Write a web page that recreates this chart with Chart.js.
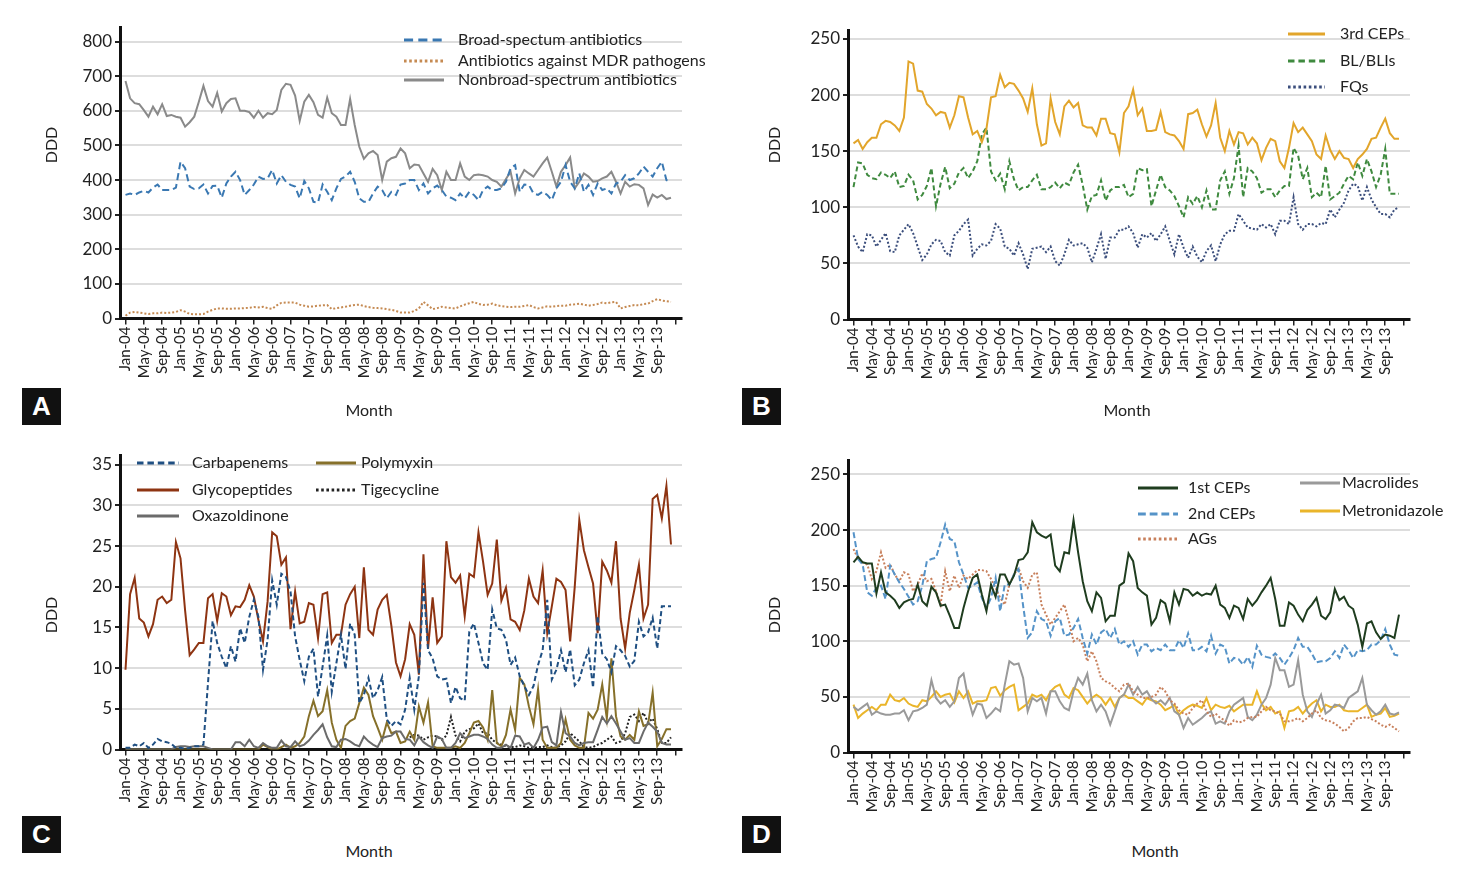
<!DOCTYPE html>
<html>
<head>
<meta charset="utf-8">
<script src="https://cdn.jsdelivr.net/npm/chart.js@4"></script>
<style>
  body { margin: 0; background: #fff; width: 1460px; height: 874px; position: relative; overflow: hidden; font-family: Lato, "Liberation Sans", sans-serif; color: #222; }
  canvas { position: absolute; }
  .tag { position: absolute; width: 39px; height: 37px; background: #111; color: #fff; font: bold 26px "Liberation Sans", sans-serif; text-align: center; line-height: 37px; }
  .lbl { position: absolute; font-size: 16px; transform: translate(-50%, -50%); white-space: nowrap; }
  .ddd { transform: translate(-50%, -50%) rotate(-90deg); }
</style>
</head>
<body>
<canvas id="chartA" width="730" height="400" style="left:0;top:0"></canvas>
<canvas id="chartB" width="732" height="400" style="left:728px;top:0"></canvas>
<canvas id="chartC" width="730" height="400" style="left:0;top:430px"></canvas>
<canvas id="chartD" width="732" height="400" style="left:728px;top:430px"></canvas>

<div class="lbl ddd" style="left:50px;top:145px">DDD</div>
<div class="lbl ddd" style="left:773px;top:145px">DDD</div>
<div class="lbl ddd" style="left:50px;top:615px">DDD</div>
<div class="lbl ddd" style="left:773px;top:615px">DDD</div>
<div class="lbl" style="left:369px;top:409px">Month</div>
<div class="lbl" style="left:1127px;top:409px">Month</div>
<div class="lbl" style="left:369px;top:850px">Month</div>
<div class="lbl" style="left:1155px;top:850px">Month</div>
<div class="tag" style="left:22px;top:388px">A</div>
<div class="tag" style="left:742px;top:388px">B</div>
<div class="tag" style="left:22px;top:816px">C</div>
<div class="tag" style="left:742px;top:816px">D</div>

<script>
// x tick labels, one every 4 months (Jan-04 .. Sep-13); data runs monthly Jan-04 .. Dec-13
const tickLabels = [
  "Jan-04", "May-04", "Sep-04", "Jan-05", "May-05", "Sep-05", "Jan-06", "May-06", "Sep-06", "Jan-07",
  "May-07", "Sep-07", "Jan-08", "May-08", "Sep-08", "Jan-09", "May-09", "Sep-09", "Jan-10", "May-10",
  "Sep-10", "Jan-11", "May-11", "Sep-11", "Jan-12", "May-12", "Sep-12", "Jan-13", "May-13", "Sep-13"
];

const yTicksA = [0, 100, 200, 300, 400, 500, 600, 700, 800];
const yTicksB = [0, 50, 100, 150, 200, 250];
const yTicksC = [0, 5, 10, 15, 20, 25, 30, 35];
const yTicksD = [0, 50, 100, 150, 200, 250];

// panel A
const broadA = [
  357, 361, 357, 364, 369, 364, 378, 387, 371, 371,
  371, 378, 453, 434, 381, 374, 376, 387, 361, 383,
  384, 349, 390, 410, 424, 400, 357, 371, 387, 410,
  403, 405, 429, 390, 414, 395, 386, 381, 347, 397,
  376, 337, 335, 387, 366, 342, 376, 403, 410, 424,
  395, 347, 337, 337, 361, 381, 371, 347, 366, 357,
  387, 390, 400, 400, 371, 390, 361, 376, 384, 371,
  352, 349, 342, 361, 347, 366, 357, 342, 371, 381,
  371, 371, 376, 395, 434, 443, 366, 387, 386, 361,
  357, 366, 357, 342, 376, 395, 443, 395, 376, 419,
  366, 386, 357, 390, 371, 376, 361, 390, 395, 414,
  400, 405, 419, 439, 424, 410, 434, 453, 400, 393
];
const mdrA = [
  8, 17, 19, 17, 15, 13, 15, 15, 17, 16,
  17, 19, 24, 20, 13, 12, 12, 13, 20, 25,
  29, 29, 28, 28, 29, 29, 30, 31, 33, 32,
  34, 30, 28, 38, 45, 46, 46, 46, 40, 37,
  34, 35, 37, 38, 39, 27, 30, 32, 34, 37,
  39, 40, 36, 33, 31, 30, 29, 27, 25, 22,
  17, 17, 17, 22, 29, 48, 38, 27, 30, 34,
  32, 30, 29, 35, 40, 44, 48, 42, 39, 40,
  43, 38, 36, 34, 33, 34, 34, 36, 39, 33,
  29, 32, 35, 34, 36, 37, 37, 40, 41, 43,
  40, 37, 39, 42, 46, 44, 47, 48, 29, 33,
  36, 39, 38, 42, 43, 50, 56, 52, 50, 48
];
const nonbroadA = [
  686, 636, 622, 619, 602, 583, 612, 590, 619, 585,
  588, 583, 580, 554, 567, 583, 626, 672, 628, 612,
  652, 598, 622, 634, 636, 600, 600, 596, 580, 600,
  580, 593, 590, 602, 660, 678, 675, 644, 571, 626,
  646, 625, 588, 580, 638, 593, 583, 559, 559, 634,
  559, 496, 461, 477, 484, 472, 400, 453, 463, 467,
  491, 477, 434, 445, 443, 419, 395, 432, 414, 371,
  424, 400, 400, 448, 410, 400, 414, 416, 414, 410,
  400, 395, 381, 403, 424, 361, 405, 429, 419, 410,
  429, 448, 465, 424, 381, 424, 443, 465, 376, 395,
  419, 410, 395, 397, 405, 410, 424, 395, 361, 395,
  381, 388, 386, 376, 328, 358, 349, 357, 345, 349
];

// panel B
const cep3B = [
  157, 160, 152, 158, 162, 162, 174, 177, 176, 173,
  168, 180, 230, 228, 204, 203, 192, 188, 182, 185,
  184, 171, 182, 199, 198, 180, 165, 168, 158, 170,
  198, 199, 218, 207, 211, 210, 204, 197, 185, 206,
  174, 155, 157, 197, 176, 165, 190, 195, 189, 193,
  173, 171, 171, 164, 179, 179, 166, 165, 149, 184,
  190, 205, 182, 188, 168, 168, 169, 185, 167, 165,
  164, 159, 152, 183, 184, 187, 174, 163, 173, 193,
  162, 150, 168, 156, 167, 166, 156, 162, 157, 142,
  153, 161, 159, 141, 135, 153, 175, 167, 171, 165,
  159, 147, 143, 164, 151, 143, 150, 144, 143, 135,
  143, 147, 152, 161, 162, 171, 179, 166, 161, 161
];
const blbliB = [
  118, 140, 139, 129, 126, 125, 131, 129, 126, 132,
  118, 119, 129, 124, 107, 111, 119, 135, 101, 121,
  136, 117, 121, 131, 135, 126, 132, 141, 165, 171,
  132, 124, 130, 116, 141, 125, 115, 118, 118, 124,
  129, 116, 116, 118, 122, 117, 122, 120, 131, 138,
  120, 98, 110, 111, 124, 106, 115, 118, 118, 120,
  109, 112, 135, 133, 134, 101, 115, 129, 118, 115,
  110, 101, 91, 109, 103, 110, 100, 115, 98, 98,
  124, 132, 112, 126, 155, 109, 135, 132, 126, 113,
  116, 116, 109, 115, 119, 119, 153, 146, 125, 135,
  109, 113, 109, 137, 107, 110, 113, 121, 128, 125,
  140, 128, 143, 132, 118, 129, 152, 112, 112, 112
];
const fqB = [
  75, 65, 60, 76, 75, 65, 71, 77, 61, 60,
  75, 80, 85, 77, 65, 53, 58, 67, 71, 70,
  60, 57, 75, 79, 85, 89, 57, 63, 67, 66,
  70, 85, 81, 65, 63, 57, 68, 58, 45, 63,
  64, 65, 60, 65, 52, 48, 58, 71, 66, 67,
  68, 64, 51, 63, 76, 54, 73, 73, 80, 80,
  83, 77, 64, 76, 73, 77, 70, 76, 83, 70,
  58, 76, 64, 55, 65, 56, 51, 61, 66, 52,
  67, 76, 79, 79, 94, 88, 82, 81, 80, 85,
  82, 85, 76, 88, 88, 85, 109, 85, 80, 85,
  85, 83, 86, 85, 98, 91, 98, 104, 115, 121,
  119, 106, 118, 107, 100, 94, 94, 91, 98, 100
];

// panel C
const carbaC = [
  0.2, 0.2, 0.6, 0.4, 0.8, 0.2, 0.6, 1.3, 1.0, 0.9,
  0.7, 0.2, 0.2, 0.1, 0.2, 0.4, 0.4, 0.6, 8.2, 15.8,
  13.1, 11.4, 10.0, 12.7, 10.8, 14.9, 13.1, 16.3, 18.4, 16.3,
  9.8, 13.5, 20.8, 17.8, 21.6, 21.2, 19.4, 13.9, 11.0, 8.4,
  11.4, 12.4, 6.5, 10.2, 14.0, 7.1, 10.6, 14.1, 9.9, 15.5,
  14.1, 5.7, 6.7, 8.8, 6.3, 7.3, 8.9, 3.7, 2.9, 3.5,
  3.1, 4.9, 8.8, 4.9, 9.0, 20.5, 12.2, 11.2, 9.0, 8.6,
  8.7, 5.7, 7.7, 6.3, 6.0, 14.5, 15.5, 13.1, 10.6, 9.8,
  17.2, 14.9, 14.7, 13.5, 10.4, 11.3, 9.0, 7.8, 6.7, 7.8,
  10.4, 12.2, 18.4, 8.6, 9.8, 12.2, 9.5, 12.3, 7.9, 8.6,
  10.6, 12.2, 7.6, 16.4, 11.8, 11.1, 9.5, 12.7, 12.2, 11.5,
  10.2, 10.9, 15.7, 13.9, 14.4, 16.2, 12.4, 17.6, 17.6, 17.6
];
const glycoC = [
  9.8, 19.1, 21.1, 16.1, 15.6, 13.9, 15.4, 18.4, 18.8, 18.0,
  18.4, 25.5, 23.5, 17.1, 11.6, 12.3, 13.1, 13.1, 18.6, 19.1,
  15.8, 19.2, 18.8, 16.5, 17.6, 17.5, 18.4, 20.2, 18.8, 15.9,
  13.3, 18.2, 26.7, 26.2, 22.7, 23.6, 14.8, 19.4, 15.5, 15.7,
  18.0, 17.8, 13.7, 19.1, 19.3, 13.1, 14.1, 14.1, 17.8, 19.1,
  20.0, 13.7, 22.4, 14.7, 14.1, 17.2, 18.4, 19.0, 15.2, 10.7,
  9.0, 11.1, 15.4, 14.1, 9.2, 24.0, 12.4, 18.7, 13.1, 13.9,
  25.6, 21.2, 20.5, 21.4, 16.4, 21.6, 21.2, 26.7, 23.1, 19.0,
  20.4, 25.8, 18.3, 19.9, 16.0, 15.7, 14.7, 17.1, 21.0, 18.8,
  18.0, 22.0, 14.3, 17.6, 21.0, 20.6, 19.6, 13.3, 20.0, 28.2,
  24.5, 22.4, 20.4, 14.3, 23.1, 22.0, 20.5, 25.6, 16.1, 12.4,
  16.8, 19.6, 22.7, 16.1, 17.8, 30.8, 31.3, 28.4, 32.4, 25.2
];
const oxaC = [
  0, 0, 0, 0, 0, 0, 0, 0, 0, 0,
  0, 0.3, 0.4, 0.4, 0.3, 0.4, 0.4, 0.4, 0.2, 0,
  0, 0, 0, 0, 0.9, 0.9, 0.4, 1.2, 0.4, 0.2,
  0.8, 0.4, 0.2, 0.2, 1.1, 0.4, 0.3, 1.0, 0.4, 0.6,
  1.1, 1.8, 2.4, 3.1, 1.5, 0.4, 0.3, 1.2, 1.3, 1.0,
  0.6, 0.4, 1.6, 1.0, 0.6, 0.3, 1.4, 1.6, 1.7, 2.2,
  2.2, 1.3, 1.2, 0.5, 1.6, 0.9, 0.5, 0.2, 1.6, 1.3,
  0.2, 0.2, 0.8, 2.0, 1.4, 1.6, 1.8, 1.8, 1.6, 1.3,
  0.6, 0.2, 0.2, 0.6, 0.2, 1.7, 1.6, 0.6, 0.8, 0.2,
  1.2, 2.7, 2.8, 0.9, 0.5, 4.6, 2.0, 1.6, 0.8, 0.5,
  0.8, 0.9, 0.9, 2.4, 4.0, 3.2, 4.1, 3.2, 2.2, 1.2,
  1.4, 0.8, 0.8, 2.2, 3.3, 2.8, 2.2, 0.8, 0.6, 0.6
];
const polyC = [
  0, 0, 0, 0, 0, 0, 0, 0, 0, 0,
  0, 0, 0, 0, 0, 0, 0, 0, 0, 0,
  0, 0, 0, 0, 0, 0, 0, 0, 0, 0,
  0.6, 0.3, 0, 0, 0.3, 0.6, 0.2, 0.4, 0.8, 1.6,
  4.1, 6.0, 4.1, 4.7, 7.3, 3.3, 1.2, 0.2, 2.9, 3.5,
  3.8, 5.7, 7.6, 6.7, 4.1, 2.7, 1.2, 3.3, 2.0, 2.2,
  0.8, 1.0, 2.2, 1.2, 5.3, 3.3, 5.8, 0.4, 0.2, 0.2,
  0.2, 0.2, 0.4, 0.2, 0.8, 2.0, 3.3, 3.5, 2.7, 1.2,
  7.3, 0.8, 0.4, 1.8, 4.9, 2.4, 8.8, 8.0, 5.3, 3.1,
  7.4, 1.2, 0.2, 0.2, 0.2, 0.8, 3.7, 1.2, 0.5, 0.2,
  0.2, 4.5, 3.8, 4.9, 8.0, 3.8, 11.2, 4.1, 1.6, 1.2,
  1.8, 1.2, 4.7, 2.9, 3.1, 7.0, 0.4, 1.3, 2.5, 2.5
];
const tigeC = [
  null, null, null, null, null, null, null, null, null, null,
  null, null, null, null, null, null, null, null, null, null,
  null, null, null, null, null, null, null, null, null, null,
  null, null, null, null, null, null, null, null, null, null,
  null, null, null, null, null, null, null, null, null, null,
  null, null, null, null, null, null, null, null, null, null,
  null, null, 1.5, 1.8, 1.7, 1.2, 1.5, 1.7, 1.6, 1.2,
  1.7, 4.0, 1.7, 1.0, 2.2, 2.5, 2.6, 3.2, 2.0, 2.0,
  1.2, 0.8, 0.6, 0.4, 0.3, 0.3, 0.5, 0.4, 0.2, 0.2,
  0.3, 0.3, 0.5, 0.3, 0.2, 0.5, 1.0, 2.0, 1.5, 1.0,
  0.3, 0.2, 0.3, 0.6, 0.8, 1.2, 1.6, 0.8, 1.0, 2.0,
  4.0, 4.3, 3.5, 4.5, 3.3, 3.8, 2.5, 0.8, 0.8, 1.5
];

// panel D
const cep1D = [
  171, 176, 171, 170, 170, 143, 162, 144, 141, 137,
  130, 135, 137, 138, 151, 136, 132, 149, 144, 132,
  133, 123, 112, 112, 130, 145, 157, 160, 142, 127,
  151, 140, 160, 160, 151, 159, 173, 174, 180, 207,
  198, 195, 193, 196, 168, 163, 180, 179, 209, 180,
  154, 136, 127, 144, 139, 118, 123, 123, 150, 153,
  179, 172, 148, 144, 141, 115, 121, 137, 134, 118,
  144, 133, 147, 146, 141, 144, 141, 143, 142, 150,
  133, 130, 121, 132, 130, 120, 138, 132, 137, 144,
  150, 157, 138, 114, 114, 135, 132, 124, 118, 128,
  133, 139, 123, 120, 126, 147, 137, 140, 132, 129,
  115, 95, 116, 118, 108, 102, 106, 105, 103, 124
];
const cep2D = [
  198, 174, 169, 144, 141, 148, 150, 138, 168, 160,
  153, 147, 140, 133, 136, 150, 172, 174, 175, 189,
  205, 192, 190, 171, 160, 148, 150, 153, 139, 130,
  139, 157, 127, 151, 151, 160, 165, 132, 103, 108,
  127, 120, 118, 105, 118, 121, 105, 106, 112, 120,
  103, 89, 106, 97, 108, 111, 103, 111, 97, 100,
  95, 100, 88, 97, 97, 91, 94, 92, 97, 92,
  92, 101, 94, 107, 92, 92, 95, 91, 105, 89,
  97, 95, 80, 85, 84, 79, 86, 77, 96, 88,
  86, 85, 89, 85, 79, 85, 92, 103, 95, 95,
  89, 81, 82, 82, 85, 91, 85, 97, 92, 85,
  92, 91, 92, 97, 97, 101, 111, 97, 88, 87
];
const agD = [
  183, 174, 171, 169, 156, 163, 180, 166, 169, 160,
  154, 162, 160, 145, 151, 161, 154, 156, 145, 133,
  163, 145, 159, 148, 159, 156, 160, 164, 164, 163,
  156, 148, 139, 133, 151, 160, 166, 154, 148, 160,
  162, 133, 124, 115, 121, 127, 133, 118, 100, 103,
  97, 82, 91, 82, 67, 64, 62, 58, 55, 61,
  62, 55, 52, 49, 49, 50, 52, 59, 55, 47,
  44, 38, 35, 34, 40, 44, 47, 37, 32, 35,
  31, 29, 24, 29, 27, 28, 31, 32, 32, 37,
  41, 38, 37, 35, 28, 28, 29, 31, 28, 31,
  35, 38, 31, 29, 28, 26, 23, 19, 22, 28,
  31, 31, 32, 30, 28, 25, 23, 25, 22, 19
];
const macroD = [
  41, 38, 41, 44, 34, 37, 35, 34, 34, 35,
  35, 38, 29, 37, 38, 40, 43, 65, 49, 44,
  47, 41, 46, 67, 71, 49, 34, 44, 43, 31,
  35, 40, 37, 61, 82, 79, 80, 67, 37, 49,
  46, 49, 35, 55, 55, 46, 40, 38, 55, 67,
  61, 71, 47, 37, 43, 37, 25, 37, 49, 52,
  61, 52, 59, 52, 55, 48, 44, 47, 43, 49,
  37, 34, 22, 31, 25, 28, 31, 35, 37, 26,
  28, 26, 37, 43, 46, 49, 32, 29, 34, 43,
  49, 61, 85, 74, 74, 59, 61, 83, 52, 37,
  32, 43, 52, 35, 38, 43, 42, 40, 49, 52,
  55, 67, 43, 38, 34, 37, 43, 35, 34, 36
];
const metroD = [
  43, 31, 35, 38, 41, 38, 43, 43, 52, 47,
  46, 49, 44, 42, 41, 47, 46, 50, 55, 50,
  52, 53, 45, 55, 49, 55, 44, 46, 46, 47,
  58, 59, 51, 56, 59, 61, 38, 41, 44, 52,
  50, 52, 47, 55, 59, 61, 52, 49, 58, 56,
  50, 44, 49, 52, 49, 43, 49, 41, 49, 52,
  49, 49, 46, 43, 49, 47, 46, 43, 38, 40,
  43, 34, 38, 41, 43, 42, 40, 49, 38, 43,
  41, 40, 42, 37, 40, 43, 43, 43, 55, 44,
  38, 41, 35, 37, 22, 37, 38, 41, 35, 40,
  44, 47, 37, 43, 41, 41, 43, 38, 37, 37,
  37, 40, 43, 32, 34, 35, 40, 32, 33, 35
];

// tick every 4 months, plus the closing unlabeled tick
const tickPos = tickLabels.map((t, k) => k * 4).concat([tickLabels.length * 4]);

function series(values, label, color, dash, width) {
  return {
    label: label,
    data: values.map((v, i) => ({ x: i, y: v })),
    borderColor: color,
    borderDash: dash || [],
    borderWidth: width || 2,
    pointRadius: 0,
    fill: false,
    tension: 0
  };
}

// legend drawn inside the panel, at fixed spots
const panelLegend = {
  id: "panelLegend",
  afterDraw(chart, args, opts) {
    const ctx = chart.ctx;
    ctx.save();
    ctx.font = '16px Lato, "Liberation Sans", sans-serif';
    ctx.textBaseline = "middle";
    opts.items.forEach(it => {
      const ds = chart.data.datasets[it.ds];
      ctx.strokeStyle = ds.borderColor;
      ctx.lineWidth = 3;
      ctx.setLineDash(ds.borderDash.length ? ds.borderDash.map(d => d * 1.3) : []);
      ctx.beginPath();
      ctx.moveTo(it.x, it.y);
      ctx.lineTo(it.x + it.w, it.y);
      ctx.stroke();
      ctx.setLineDash([]);
      ctx.fillStyle = "#222";
      ctx.fillText(ds.label, it.tx, it.y);
    });
    ctx.restore();
  }
};

function makeChart(id, datasets, cfg) {
  return new Chart(document.getElementById(id).getContext("2d"), {
    type: "line",
    data: { datasets: datasets },
    options: {
      responsive: false,
      animation: false,
      devicePixelRatio: 1,
      layout: { padding: { top: cfg.top, right: cfg.right, left: 0, bottom: 0 } },
      plugins: {
        legend: { display: false },
        tooltip: { enabled: false },
        panelLegend: { items: cfg.legend }
      },
      scales: {
        x: {
          type: "linear",
          min: -1.2,
          max: 121.4,
          bounds: "data",
          afterBuildTicks: s => { s.ticks = tickPos.map(v => ({ value: v })); },
          afterFit: s => { s.height = cfg.xh; },
          grid: { drawOnChartArea: false, drawTicks: true, tickLength: 6, tickColor: "#222", lineWidth: 1.5 },
          border: { color: "#111", width: 3 },
          ticks: {
            autoSkip: false,
            minRotation: 90,
            maxRotation: 90,
            padding: 2,
            color: "#222",
            font: { family: "Lato", size: 15 },
            callback: v => tickLabels[v / 4] || ""
          }
        },
        y: {
          min: 0,
          max: cfg.yMax,
          bounds: "data",
          afterBuildTicks: s => { s.ticks = cfg.yTicks.map(v => ({ value: v })); },
          afterFit: s => { s.width = 120; },
          grid: { color: "#dddddd", lineWidth: 2, tickColor: "#222", tickLength: 5 },
          border: { color: "#111", width: 3 },
          ticks: { padding: 3, color: "#222", font: { family: "Lato", size: 17 } }
        }
      }
    },
    plugins: [panelLegend]
  });
}

makeChart("chartA", [
  series(broadA, "Broad-spectum antibiotics", "#3a78b2", [7, 4]),
  series(mdrA, "Antibiotics against MDR pathogens", "#c58a52", [2, 2]),
  series(nonbroadA, "Nonbroad-spectrum antibiotics", "#8a8a8a", [])
], {
  top: 27, right: 48, xh: 81.5, yMax: 842, yTicks: yTicksA,
  legend: [
    { ds: 0, x: 404, y: 40, w: 40, tx: 458 },
    { ds: 1, x: 404, y: 61, w: 40, tx: 458 },
    { ds: 2, x: 404, y: 80, w: 40, tx: 458 }
  ]
});

makeChart("chartB", [
  series(cep3B, "3rd CEPs", "#e2a52b", []),
  series(blbliB, "BL/BLIs", "#3f8a3f", [5, 3]),
  series(fqB, "FQs", "#3b4e7c", [2, 2])
], {
  top: 30, right: 50, xh: 80.5, yMax: 258, yTicks: yTicksB,
  legend: [
    { ds: 0, x: 560, y: 34, w: 37, tx: 612 },
    { ds: 1, x: 560, y: 61, w: 37, tx: 612 },
    { ds: 2, x: 560, y: 87, w: 37, tx: 612 }
  ]
});

makeChart("chartC", [
  series(carbaC, "Carbapenems", "#1f4f82", [5, 3]),
  series(glycoC, "Glycopeptides", "#8e3412", []),
  series(oxaC, "Oxazoldinone", "#6b6b6b", []),
  series(polyC, "Polymyxin", "#86702a", []),
  series(tigeC, "Tigecycline", "#222222", [2, 2])
], {
  top: 25, right: 48, xh: 80.5, yMax: 36.2, yTicks: yTicksC,
  legend: [
    { ds: 0, x: 137, y: 33, w: 42, tx: 192 },
    { ds: 1, x: 137, y: 60, w: 42, tx: 192 },
    { ds: 2, x: 137, y: 86, w: 42, tx: 192 },
    { ds: 3, x: 316, y: 33, w: 40, tx: 361 },
    { ds: 4, x: 316, y: 60, w: 40, tx: 361 }
  ]
});

makeChart("chartD", [
  series(cep1D, "1st CEPs", "#1f3d1f", []),
  series(cep2D, "2nd CEPs", "#5593c8", [6, 3]),
  series(agD, "AGs", "#c8805c", [2, 2]),
  series(macroD, "Macrolides", "#9a9a9a", []),
  series(metroD, "Metronidazole", "#eab52a", [])
], {
  top: 30, right: 50, xh: 77.5, yMax: 263, yTicks: yTicksD,
  legend: [
    { ds: 0, x: 410, y: 58, w: 40, tx: 460 },
    { ds: 1, x: 410, y: 84, w: 40, tx: 460 },
    { ds: 2, x: 410, y: 109, w: 40, tx: 460 },
    { ds: 3, x: 572, y: 53, w: 40, tx: 614 },
    { ds: 4, x: 572, y: 81, w: 40, tx: 614 }
  ]
});
</script>
</body>
</html>
